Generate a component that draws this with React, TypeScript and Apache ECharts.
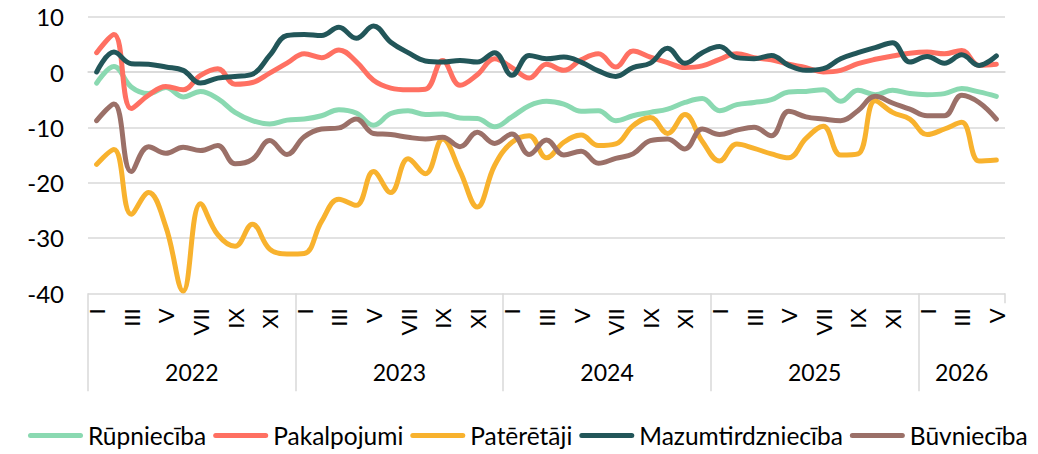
import React, { useEffect, useRef } from "react";
import * as echarts from "echarts";

const years = ["2022", "2023", "2024", "2025", "2026"];
const monthsPerYear = [12, 12, 12, 12, 5];
const monthLabels = ["I", "II", "III", "IV", "V", "VI", "VII", "VIII", "IX", "X", "XI", "XII"];

const yMin = -40;
const yMax = 10;
const yStep = 10;

const seriesNames = ["Rūpniecība", "Pakalpojumi", "Patērētāji", "Mazumtirdzniecība", "Būvniecība"];
const seriesColors = ["#8AD9B1", "#FF7062", "#F8B22E", "#225659", "#9B7068"];

const rupnieciba = [
  -2.0, 1.0, -2.7, -3.9, -2.8, -4.5, -3.5, -4.8, -7.3, -8.8, -9.4, -8.7,
  -8.5, -7.9, -6.8, -7.4, -9.6, -7.5, -7.0, -7.7, -7.6, -8.3, -8.4, -9.9,
  -8.1, -6.1, -5.3, -5.8, -7.1, -7.0, -8.8, -7.9, -7.3, -6.7, -5.5, -4.8,
  -7.0, -5.9, -5.5, -5.0, -3.6, -3.5, -3.2, -5.3, -3.3, -4.1, -3.3, -3.9,
  -4.1, -3.9, -3.0, -3.6, -4.4,
];
const pakalpojumi = [
  3.5, 6.8, -6.6, -4.2, -2.6, -3.2, -0.6, 0.6, -2.2, -1.9, -0.2, 1.6,
  3.3, 2.6, 4.0, 1.9, -1.5, -2.9, -3.2, -3.1, 2.1, -2.4, -0.5, 2.4,
  0.8, -1.1, 1.4, 0.3, 2.2, 3.3, 0.9, 3.8, 2.7, 1.7, 0.8, 1.1,
  2.3, 3.3, 2.6, 2.2, 1.4, 0.8, 0.0, 0.3, 1.5, 2.3, 2.9, 3.4,
  3.6, 3.3, 3.9, 1.2, 1.4,
];
const pateretaji = [
  -16.7, -14.0, -25.7, -21.8, -28.0, -39.6, -23.8, -29.4, -31.5, -27.5, -32.0, -32.9,
  -32.8, -27.0, -23.0, -24.1, -18.0, -21.8, -15.7, -18.4, -12.1, -17.9, -24.4, -16.9,
  -12.7, -11.5, -15.5, -12.7, -11.4, -13.3, -13.0, -9.7, -8.2, -11.1, -7.7, -12.5,
  -16.1, -13.0, -13.8, -14.8, -15.5, -12.0, -9.8, -15.0, -14.8, -5.2, -7.3, -8.5,
  -11.3, -10.3, -9.1, -16.1, -15.9,
];
const mazumtirdznieciba = [
  0.0, 3.6, 1.5, 1.4, 0.9, 0.3, -2.0, -1.1, -0.8, -0.4, 3.0, 6.6,
  6.8, 6.6, 8.1, 6.1, 8.3, 5.4, 3.5, 2.0, 1.8, 2.1, 1.8, 3.5,
  -0.6, 3.0, 2.4, 2.7, 1.8, 0.2, -0.8, 0.8, 1.6, 4.3, 1.6, 3.5,
  4.6, 2.6, 2.4, 3.0, 1.2, 0.3, 0.6, 2.4, 3.5, 4.4, 5.3, 1.8,
  2.8, 1.6, 3.1, 1.2, 2.9,
];
const buvnieciba = [
  -8.8, -5.8, -18.0, -13.5, -14.7, -13.6, -14.2, -13.3, -16.6, -15.8, -12.4, -14.9,
  -11.7, -10.3, -10.1, -8.5, -11.1, -11.3, -11.8, -12.1, -11.8, -13.5, -10.9, -12.9,
  -11.2, -14.9, -12.3, -15.0, -14.3, -16.5, -15.6, -14.8, -12.4, -12.1, -13.9, -10.3,
  -11.3, -10.5, -10.0, -11.5, -7.1, -8.1, -8.5, -8.8, -7.0, -4.4, -5.6, -6.7,
  -7.9, -7.9, -4.2, -5.5, -8.5,
];

const seriesData = [rupnieciba, pakalpojumi, pateretaji, mazumtirdznieciba, buvnieciba];

const FONT = "Lato, 'Noto Sans', sans-serif";
const GRID_COLOR = "#D9D9D9";

export default function App() {
  const ref = useRef<HTMLDivElement>(null);

  useEffect(() => {
    if (!ref.current) return;
    const chart = echarts.init(ref.current, null, { renderer: "svg" });

    const categories: string[] = [];
    years.forEach((y, yi) => {
      for (let m = 0; m < monthsPerYear[yi]; m++) categories.push(y + "-" + monthLabels[m]);
    });
    const bounds: number[] = [0];
    monthsPerYear.forEach((n) => bounds.push(bounds[bounds.length - 1] + n));
    const total = bounds[bounds.length - 1];
    const centers = years.map((_, i) => (bounds[i] + bounds[i + 1]) / 2);

    const legendIcon = "path://M2.5,0 L52.5,0 A2.5,2.5 0 0 1 52.5,5 L2.5,5 A2.5,2.5 0 0 1 2.5,0 Z";

    chart.setOption({
      animation: false,
      textStyle: { fontFamily: FONT },
      grid: {
        left: 88,
        right: 33,
        top: 16.7,
        bottom: 160.7,
        containLabel: false,
        outerBoundsMode: "none",
      },
      legend: {
        data: seriesNames,
        left: 28,
        top: 423,
        padding: 0,
        itemWidth: 55,
        itemHeight: 5,
        itemGap: 7,
        icon: legendIcon,
        textStyle: { fontSize: 24.5, color: "#000", fontFamily: FONT },
      },
      xAxis: [
        {
          type: "category",
          data: categories,
          boundaryGap: true,
          position: "bottom",
          axisLine: { show: true, lineStyle: { color: GRID_COLOR, width: 1.5 } },
          axisTick: { show: false },
          splitLine: { show: false },
          axisLabel: {
            interval: 1,
            rotate: 90,
            margin: 15,
            fontSize: 22,
            color: "#000",
            fontFamily: FONT,
            formatter: (v: string) => v.split("-")[1],
          },
        },
        {
          type: "value",
          min: 0,
          max: total,
          position: "bottom",
          axisLine: { show: false },
          splitLine: { show: false },
          axisTick: {
            show: true,
            length: 98,
            customValues: bounds.slice(0, bounds.length - 1),
            lineStyle: { color: GRID_COLOR, width: 1.5 },
          },
          axisLabel: {
            show: true,
            customValues: centers,
            margin: 67,
            fontSize: 23,
            color: "#000",
            fontFamily: FONT,
            formatter: (v: number) => {
              const idx = centers.indexOf(v);
              return idx >= 0 ? years[idx] : "";
            },
          },
        },
        {
          type: "value",
          min: 0,
          max: total,
          position: "bottom",
          axisLine: { show: false },
          splitLine: { show: false },
          axisLabel: { show: false },
          axisTick: {
            show: true,
            length: 10,
            customValues: [total],
            lineStyle: { color: GRID_COLOR, width: 1.5 },
          },
        },
      ],
      yAxis: {
        type: "value",
        min: yMin,
        max: yMax,
        interval: yStep,
        axisLine: { show: false },
        axisTick: { show: false },
        splitLine: { show: true, lineStyle: { color: GRID_COLOR, width: 1.5 } },
        axisLabel: { fontSize: 24, color: "#000", margin: 24, fontFamily: FONT },
      },
      series: seriesNames.map((name, i) => ({
        name,
        type: "line",
        xAxisIndex: 0,
        data: seriesData[i],
        smooth: 0.4,
        symbol: "none",
        color: seriesColors[i],
        lineStyle: { width: 5, color: seriesColors[i], cap: "round", join: "round" },
      })),
    });

    return () => chart.dispose();
  }, []);

  return (
    <div
      ref={ref}
      style={{ position: "absolute", left: 0, top: 0, width: 1038, height: 454 }}
    />
  );
}
